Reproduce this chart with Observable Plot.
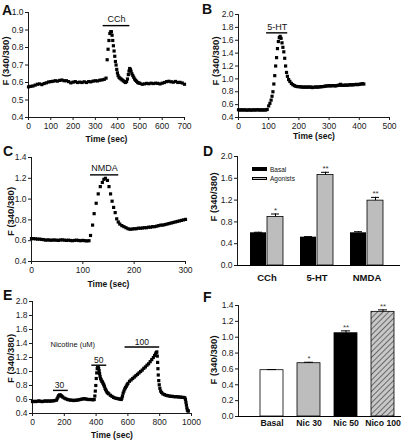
<!DOCTYPE html>
<html><head><meta charset="utf-8">
<script src="https://cdn.jsdelivr.net/npm/d3@7"></script>
<script src="https://cdn.jsdelivr.net/npm/@observablehq/plot@0.6"></script>
<style>
html,body{margin:0;padding:0;background:#fff;}
#fig{position:relative;width:404px;height:440px;overflow:hidden;font-family:"Liberation Sans",Arial,Helvetica,sans-serif;color:#111;}
.letter{position:absolute;font-weight:bold;font-size:14px;line-height:14px;}
.leg{position:absolute;font-size:6.5px;line-height:7px;white-space:nowrap;}
.sw{position:absolute;box-sizing:border-box;}
</style></head><body><div id="fig"></div>
<script>
// ---------- DATA ----------
// Panel A (CCh), [time s, F340/380]
const aTrace = [[0,.575],[10,.578],[20,.58],[30,.585],[40,.59],[50,.592],[60,.588],[70,.594],[80,.598],[90,.603],[100,.605],[110,.607],[120,.61],[130,.608],[140,.612],[150,.614],[160,.61],[170,.61],[180,.605],[190,.598],[200,.602],[210,.605],[220,.60],[230,.602],[240,.60],[250,.604],[260,.60],[270,.605],[280,.604],[290,.608],[300,.61],[310,.609],[320,.613],[330,.615],[340,.618],[348,.625],[353,.73],[357,.79],[361,.84],[365,.88],[369,.89],[372,.89],[375,.87],[378,.84],[381,.81],[384,.78],[387,.75],[390,.72],[393,.70],[396,.675],[399,.655],[402,.64],[406,.63],[410,.625],[415,.62],[420,.615],[425,.61],[430,.605],[435,.60],[440,.605],[444,.62],[448,.645],[451,.665],[454,.68],[457,.675],[460,.665],[464,.65],[468,.64],[472,.63],[476,.62],[480,.613],[485,.607],[490,.60],[495,.597],[500,.595],[510,.59],[520,.592],[530,.595],[540,.593],[550,.596],[560,.594],[570,.596],[580,.595],[590,.592],[600,.596],[610,.60],[620,.605],[630,.607],[640,.604],[650,.602],[660,.606],[670,.60],[680,.601],[690,.597],[700,.59]];
const aStim = [{label:"CCh", x1:335, x2:455, y:0.925, tx:395, ty:0.965}];

// Panel B (5-HT)
const bTrace = [[0,.52],[5,.515],[10,.52],[15,.515],[20,.52],[25,.515],[30,.515],[35,.52],[40,.515],[45,.515],[50,.52],[55,.515],[60,.52],[65,.52],[70,.515],[75,.52],[80,.515],[85,.52],[90,.515],[95,.525],[100,.58],[104,.62],[108,.67],[111,.73],[114,.80],[117,.92],[120,1.05],[123,1.2],[126,1.33],[129,1.47],[132,1.58],[135,1.64],[138,1.66],[141,1.63],[144,1.56],[147,1.49],[150,1.42],[153,1.32],[156,1.2],[159,1.10],[162,1.04],[166,.99],[170,.96],[175,.93],[180,.91],[185,.895],[190,.885],[195,.88],[200,.88],[205,.875],[210,.875],[215,.87],[220,.875],[225,.87],[230,.875],[235,.87],[240,.875],[245,.865],[250,.87],[255,.875],[260,.87],[265,.875],[270,.875],[275,.88],[280,.88],[285,.885],[290,.89],[295,.89],[300,.895],[305,.89],[310,.895],[315,.895],[320,.89],[325,.895],[330,.90],[335,.905],[338,.915],[340,.90],[345,.90],[350,.90],[355,.905],[360,.90],[365,.905],[370,.91],[375,.905],[380,.91],[385,.91],[390,.915],[395,.91],[400,.915],[405,.92],[410,.925],[415,.92]];
const bStim = [{label:"5-HT", x1:93, x2:163, y:1.715, tx:128, ty:1.80}];

// Panel C (NMDA)
const cTrace = [[0,.62],[4,.62],[8,.618],[12,.615],[16,.615],[20,.612],[24,.61],[28,.605],[32,.608],[36,.605],[40,.605],[44,.607],[48,.605],[52,.603],[56,.607],[60,.608],[64,.605],[68,.603],[72,.605],[76,.602],[80,.60],[84,.603],[88,.605],[92,.602],[96,.60],[100,.603],[104,.60],[108,.598],[112,.60],[115,.65],[119,.75],[122,.86],[126,.96],[130,1.05],[134,1.12],[138,1.16],[141,1.19],[144,1.20],[148,1.18],[151,1.12],[154,1.05],[157,.98],[160,.92],[163,.87],[166,.81],[169,.78],[172,.76],[176,.745],[180,.735],[184,.725],[188,.715],[192,.71],[196,.712],[200,.715],[204,.715],[208,.72],[212,.72],[216,.722],[220,.725],[224,.725],[228,.73],[232,.73],[236,.735],[240,.735],[244,.74],[248,.745],[252,.75],[256,.75],[260,.755],[264,.76],[268,.765],[272,.77],[276,.775],[280,.78],[284,.785],[288,.79],[292,.795],[296,.80],[300,.805]];
const cStim = [{label:"NMDA", x1:115, x2:170, y:1.233, tx:142, ty:1.30}];

// Panel D (summary)
const dGroups = ["CCh","5-HT","NMDA"];
const dSeries = ["Basal","Agonists"];
const dBasal = [0.60, 0.52, 0.60];
const dBasalErr = [0.01, 0.01, 0.02];
const dAgonist = [0.89, 1.66, 1.19];
const dAgonistErr = [0.055, 0.05, 0.06];
const dStars = ["*","**","**"];

// Panel E (nicotine)
const eTrace = [[0,.57],[10,.575],[20,.57],[30,.575],[40,.58],[50,.575],[60,.57],[70,.575],[80,.58],[90,.575],[100,.58],[110,.575],[120,.58],[130,.58],[140,.585],[150,.59],[155,.61],[160,.635],[165,.655],[170,.665],[175,.665],[180,.655],[185,.645],[190,.635],[200,.62],[210,.61],[220,.60],[230,.595],[240,.59],[250,.59],[260,.585],[270,.59],[280,.59],[290,.595],[300,.60],[310,.605],[320,.61],[330,.61],[340,.605],[350,.60],[360,.60],[370,.60],[380,.595],[388,.60],[392,.65],[395,.72],[398,.80],[401,.90],[404,.98],[407,1.04],[410,1.06],[413,1.06],[416,1.04],[419,1.01],[422,.97],[425,.93],[428,.90],[432,.88],[436,.86],[440,.85],[444,.83],[448,.81],[452,.79],[456,.76],[460,.74],[465,.72],[470,.70],[475,.69],[480,.68],[490,.66],[500,.645],[510,.63],[520,.62],[530,.615],[540,.61],[550,.605],[558,.60],[562,.62],[566,.65],[570,.69],[575,.72],[580,.75],[585,.77],[590,.79],[595,.81],[600,.83],[610,.86],[620,.88],[630,.90],[640,.92],[650,.94],[660,.96],[670,.98],[680,1.00],[690,1.02],[700,1.045],[710,1.065],[720,1.09],[730,1.11],[740,1.14],[750,1.17],[760,1.20],[768,1.23],[774,1.25],[778,1.27],[782,1.28],[785,1.22],[787,1.13],[789,1.04],[791,.95],[794,.87],[797,.81],[801,.76],[806,.72],[812,.70],[820,.68],[830,.67],[840,.66],[850,.655],[860,.65],[870,.645],[880,.645],[890,.64],[900,.64],[910,.64],[920,.635],[930,.635],[940,.63],[950,.63],[958,.625],[962,.60],[965,.56],[968,.52],[971,.48],[974,.45],[977,.44],[980,.435]];
const eStim = [
  {label:"30", x1:132, x2:225, y:0.73, tx:170, ty:0.80},
  {label:"50", x1:373, x2:467, y:1.09, tx:416, ty:1.16},
  {label:"100", x1:582, x2:800, y:1.35, tx:688, ty:1.42}
];
const eNote = [{label:"Nicotine (uM)", x:113, y:1.38}];

// Panel F (nicotine summary)
const fCats = ["Basal","Nic 30","Nic 50","Nico 100"];
const fValues = [0.584, 0.672, 1.05, 1.32];
const fErr = [0.008, 0.012, 0.03, 0.025];
const fStars = ["","*","**","**"];

// ---------- DRAWING ----------
const FONT = '"Liberation Sans", Arial, Helvetica, sans-serif';
const fig = document.getElementById("fig");
function base(o) {
  return {
    width: o.w, height: o.h,
    marginLeft: o.ml, marginRight: o.mr, marginTop: o.mt, marginBottom: o.mb,
    style: {fontFamily: FONT, fontSize: "8.5px", background: "none", color: "#1a1a1a", overflow: "visible", maxWidth: "none"}
  };
}
function add(svg, left, top) {
  svg.style.position = "absolute"; svg.style.left = left + "px"; svg.style.top = top + "px";
  fig.appendChild(svg);
}
const yLab = (dx, dy) => Plot.text(["F (340/380)"], {frameAnchor: "left", rotate: -90, dx, dy, textAnchor: "middle", lineAnchor: "middle", fontWeight: "bold", fontSize: 9.5, fill: "#111"});
const xLab = (dy) => Plot.text(["Time (sec)"], {frameAnchor: "bottom", dy, textAnchor: "middle", lineAnchor: "middle", fontWeight: "bold", fontSize: 8.5, fill: "#111"});
const trace = (data) => Plot.dot(data, {x: d => d[0], y: d => d[1], symbol: "square", r: 1.8, fill: "black"});
const stim = (rows, fs = 9) => [
  Plot.ruleY(rows, {y: "y", x1: "x1", x2: "x2", stroke: "black", strokeWidth: 1.4}),
  Plot.text(rows, {x: "tx", y: "ty", text: "label", fontSize: fs, fill: "#111"})
];
const axX = (domain, ticks) => ({domain, ticks, tickSize: 3, tickPadding: 2, line: true, label: null, tickFormat: d3.format("d")});
const axY = (domain, ticks) => ({domain, ticks, tickSize: 3, tickPadding: 2, line: true, label: null, tickFormat: d3.format(".1f")});
const rng = (a, b, s) => d3.range(Math.round((b - a) / s) + 1).map(i => +(a + i * s).toFixed(3));

// A
add(Plot.plot({
  ...base({w: 200, h: 146, ml: 28, mr: 16, mt: 12, mb: 29}),
  x: axX([0, 700], rng(0, 700, 100)),
  y: axY([0.4, 1.0], rng(0.4, 1.0, 0.1)),
  marks: [trace(aTrace), stim(aStim), xLab(22), yLab(-22.3, -4)]
}), 0, 0);

// B
add(Plot.plot({
  ...base({w: 204, h: 146, ml: 38, mr: 15, mt: 14, mb: 29}),
  x: axX([0, 500], rng(0, 500, 100)),
  y: axY([0.4, 2.0], rng(0.4, 2.0, 0.2)),
  marks: [trace(bTrace), stim(bStim), xLab(19), yLab(-23, -5)]
}), 200, 0);

// C
add(Plot.plot({
  ...base({w: 200, h: 150, ml: 31, mr: 15, mt: 17, mb: 29}),
  x: axX([0, 300], rng(0, 300, 100)),
  y: axY([0.4, 1.4], rng(0.4, 1.4, 0.2)),
  marks: [trace(cTrace), stim(cStim), xLab(23), yLab(-21, 2)]
}), 0, 140);

// D
const dRows = dGroups.map((g, i) => ({group: g, basal: dBasal[i], basalErr: dBasalErr[i], ag: dAgonist[i], agErr: dAgonistErr[i], star: dStars[i]}));
add(Plot.plot({
  ...base({w: 204, h: 150, ml: 37, mr: 4, mt: 16, mb: 25}),
  x: {domain: dGroups, axis: null, paddingInner: 0.333, paddingOuter: 0.265, align: 0.44},
  y: axY([0, 2.0], rng(0, 2.0, 0.4)),
  marks: [
    Plot.barY(dRows, {x: "group", y: "basal", insetRight: 17, fill: "black"}),
    Plot.barY(dRows, {x: "group", y: "ag", insetLeft: 17, fill: "#bdbdbd", stroke: "black", strokeWidth: 0.8}),
    Plot.ruleX(dRows, {x: "group", y1: "basal", y2: d => d.basal + d.basalErr, dx: -8.5, stroke: "black"}),
    Plot.tickY(dRows, {x: "group", y: d => d.basal + d.basalErr, insetLeft: 4, insetRight: 21, stroke: "black"}),
    Plot.ruleX(dRows, {x: "group", y1: "ag", y2: d => d.ag + d.agErr, dx: 8.5, stroke: "black"}),
    Plot.tickY(dRows, {x: "group", y: d => d.ag + d.agErr, insetLeft: 21, insetRight: 4, stroke: "black"}),
    Plot.text(dRows, {x: "group", y: d => d.ag + d.agErr, text: "star", dx: 8.5, dy: -1, lineAnchor: "bottom", fontSize: 8, fill: "#333"}),
    Plot.ruleY([0], {stroke: "black"}),
    Plot.text(dRows, {x: "group", text: "group", frameAnchor: "bottom", dy: 12, lineAnchor: "middle", fontWeight: "bold", fontSize: 9.5, fill: "#111"}),
    yLab(-23.7, -14)
  ]
}), 200, 140);
// D legend
[{top: 167, fill: "#000", border: "none", h: 4}, {top: 176.5, fill: "#bdbdbd", border: "0.8px solid #000", h: 3.5}].forEach((s, i) => {
  const sw = document.createElement("div");
  sw.className = "sw";
  sw.style.cssText = `left:251.5px;top:${s.top}px;width:15px;height:${s.h}px;background:${s.fill};border:${s.border};`;
  fig.appendChild(sw);
  const t = document.createElement("div");
  t.className = "leg";
  t.style.left = "270px"; t.style.top = (s.top - 1.5) + "px";
  t.textContent = dSeries[i];
  fig.appendChild(t);
});

// E
add(Plot.plot({
  ...base({w: 200, h: 155, ml: 32, mr: 9, mt: 16, mb: 27}),
  x: axX([0, 1000], rng(0, 1000, 200)),
  y: axY([0.4, 2.0], rng(0.4, 2.0, 0.2)),
  marks: [
    trace(eTrace), stim(eStim, 8.5),
    Plot.text(eNote, {x: "x", y: "y", text: "label", textAnchor: "start", fontSize: 7.5, fill: "#111"}),
    xLab(22), yLab(-21.3, 1)
  ]
}), 0, 285);

// F
const fRows = fCats.map((c, i) => ({cat: c, v: fValues[i], err: fErr[i], star: fStars[i]}));
const hatchDefs = () => {
  const defs = d3.create("svg:defs");
  const p = defs.append("pattern").attr("id", "hatchF").attr("patternUnits", "userSpaceOnUse")
    .attr("width", 4).attr("height", 4).attr("patternTransform", "rotate(45)");
  p.append("rect").attr("width", 4).attr("height", 4).attr("fill", "#c8c8c8");
  p.append("line").attr("x1", 0).attr("y1", 0).attr("x2", 0).attr("y2", 4).attr("stroke", "#333").attr("stroke-width", 1.3);
  return defs.node();
};
add(Plot.plot({
  ...base({w: 204, h: 155, ml: 38, mr: 3, mt: 20, mb: 24}),
  x: {domain: fCats, axis: null, paddingInner: 0.378, paddingOuter: 0.39, align: 0.76},
  y: axY([0, 1.4], rng(0, 1.4, 0.2)),
  color: {domain: fCats, range: ["white", "#bdbdbd", "black", "url(#hatchF)"]},
  marks: [
    hatchDefs,
    Plot.barY(fRows, {x: "cat", y: "v", fill: "cat", stroke: "black", strokeWidth: 0.8}),
    Plot.ruleX(fRows, {x: "cat", y1: "v", y2: d => d.v + d.err, stroke: "black"}),
    Plot.tickY(fRows, {x: "cat", y: d => d.v + d.err, insetLeft: 7, insetRight: 7, stroke: "black"}),
    Plot.text(fRows, {x: "cat", y: d => d.v + d.err, text: "star", dy: -1, lineAnchor: "bottom", fontSize: 8, fill: "#444"}),
    Plot.ruleY([0], {stroke: "black"}),
    Plot.text(fRows, {x: "cat", text: "cat", frameAnchor: "bottom", dy: 6.5, lineAnchor: "middle", fontWeight: "bold", fontSize: 8.7, fill: "#111"}),
    yLab(-24.7, -1)
  ]
}), 200, 285);

// panel letters
[["A", 2, 3], ["B", 202, 1.5], ["C", 3, 144], ["D", 203, 144], ["E", 3, 288], ["F", 203, 290]].forEach(([t, l, tp]) => {
  const d = document.createElement("div");
  d.className = "letter"; d.style.left = l + "px"; d.style.top = tp + "px"; d.textContent = t;
  fig.appendChild(d);
});
</script></body></html>
